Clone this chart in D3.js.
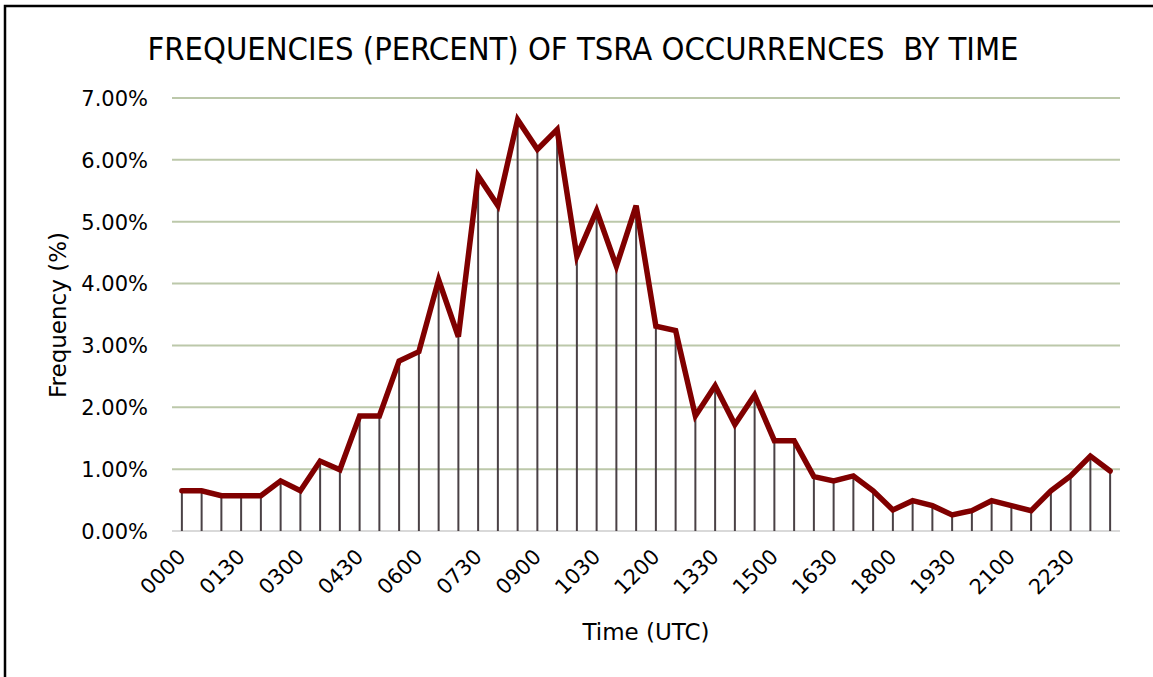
<!DOCTYPE html>
<html>
<head>
<meta charset="utf-8">
<script src="https://cdn.jsdelivr.net/npm/d3@7"></script>
<style>
  html, body { margin: 0; padding: 0; background: #fff; }
  svg { display: block; }
</style>
</head>
<body>
<svg id="chart" width="1153" height="677"></svg>
<script>
// ---- Data ----
const times = ["0000","0030","0100","0130","0200","0230","0300","0330","0400","0430","0500","0530",
  "0600","0630","0700","0730","0800","0830","0900","0930","1000","1030","1100","1130",
  "1200","1230","1300","1330","1400","1430","1500","1530","1600","1630","1700","1730",
  "1800","1830","1900","1930","2000","2030","2100","2130","2200","2230","2300","2330"];
const frequencies = [0.65,0.65,0.57,0.57,0.57,0.81,0.65,1.13,0.99,1.86,1.86,2.75,
  2.90,4.06,3.14,5.74,5.26,6.65,6.17,6.49,4.44,5.18,4.28,5.26,
  3.31,3.24,1.86,2.35,1.72,2.20,1.46,1.46,0.88,0.81,0.89,0.65,
  0.34,0.49,0.41,0.26,0.33,0.49,0.41,0.33,0.65,0.89,1.21,0.97];
const yTicks = [0,1,2,3,4,5,6,7];
const labelledTimes = times.filter((d, i) => i % 3 === 0);
const titleText = "FREQUENCIES (PERCENT) OF TSRA OCCURRENCES  BY TIME";
const xTitle = "Time (UTC)";
const yTitle = "Frequency (%)";

// ---- Layout ----
const svg = d3.select("#chart");
const plot = { left: 172, right: 1120, top: 98, bottom: 531 };
const font = "'DejaVu Sans', Verdana, sans-serif";

const x = d3.scaleBand().domain(times).range([plot.left, plot.right]);
const y = d3.scaleLinear().domain([0, 7]).range([plot.bottom, plot.top]);
const cx = d => x(d) + x.bandwidth() / 2;

// Frame
svg.append("rect")
  .attr("x", 5).attr("y", 6).attr("width", 1160).attr("height", 690)
  .attr("fill", "none").attr("stroke", "#000").attr("stroke-width", 2.5);

// Title
svg.append("text")
  .attr("x", 583).attr("y", 60)
  .attr("text-anchor", "middle")
  .attr("font-family", "'DejaVu Sans Condensed', 'DejaVu Sans', sans-serif")
  .attr("font-size", 32)
  .attr("fill", "#000")
  .attr("textLength", 871)
  .attr("lengthAdjust", "spacingAndGlyphs")
  .style("white-space", "pre")
  .text(titleText);

// Gridlines
svg.append("g").selectAll("line")
  .data(yTicks.filter(d => d > 0))
  .join("line")
  .attr("x1", plot.left).attr("x2", plot.right)
  .attr("y1", d => y(d)).attr("y2", d => y(d))
  .attr("stroke", "#bcc8aa").attr("stroke-width", 2);

// Baseline
svg.append("line")
  .attr("x1", plot.left).attr("x2", plot.right)
  .attr("y1", y(0)).attr("y2", y(0))
  .attr("stroke", "#d9d9d9").attr("stroke-width", 2);

// Y axis labels
const yAxis = d3.axisLeft(y).tickValues(yTicks)
  .tickFormat(d => d.toFixed(2) + "%").tickSize(0).tickPadding(0);
const gy = svg.append("g").attr("transform", "translate(148,0)").call(yAxis);
gy.select(".domain").remove();
gy.selectAll("text")
  .attr("font-family", font).attr("font-size", 21).attr("fill", "#000")
  .attr("dy", "0.35em");

// Drop lines
svg.append("g").selectAll("line")
  .data(times)
  .join("line")
  .attr("x1", d => cx(d)).attr("x2", d => cx(d))
  .attr("y1", (d, i) => y(frequencies[i])).attr("y2", y(0))
  .attr("stroke", "#4a4145").attr("stroke-width", 2);

// Line
const line = d3.line().x((d, i) => cx(times[i])).y(d => y(d));
svg.append("path")
  .datum(frequencies)
  .attr("d", line)
  .attr("fill", "none")
  .attr("stroke", "#800000")
  .attr("stroke-width", 5.5)
  .attr("stroke-linejoin", "miter")
  .attr("stroke-linecap", "round");

// X axis labels
const xAxis = d3.axisBottom(x).tickValues(labelledTimes).tickSize(0).tickPadding(0);
const gx = svg.append("g").attr("transform", `translate(0,${plot.bottom})`).call(xAxis);
gx.select(".domain").remove();
gx.selectAll(".tick text")
  .attr("font-family", font).attr("font-size", 21).attr("fill", "#000")
  .attr("text-anchor", "end")
  .attr("dy", null).attr("y", null)
  .attr("transform", "translate(5,27) rotate(-45)");

// Axis titles
svg.append("text")
  .attr("x", 646).attr("y", 640)
  .attr("text-anchor", "middle")
  .attr("font-family", font).attr("font-size", 23).attr("fill", "#000")
  .text(xTitle);

svg.append("text")
  .attr("transform", "translate(66,315) rotate(-90)")
  .attr("text-anchor", "middle")
  .attr("font-family", font).attr("font-size", 23).attr("fill", "#000")
  .text(yTitle);
</script>
</body>
</html>
